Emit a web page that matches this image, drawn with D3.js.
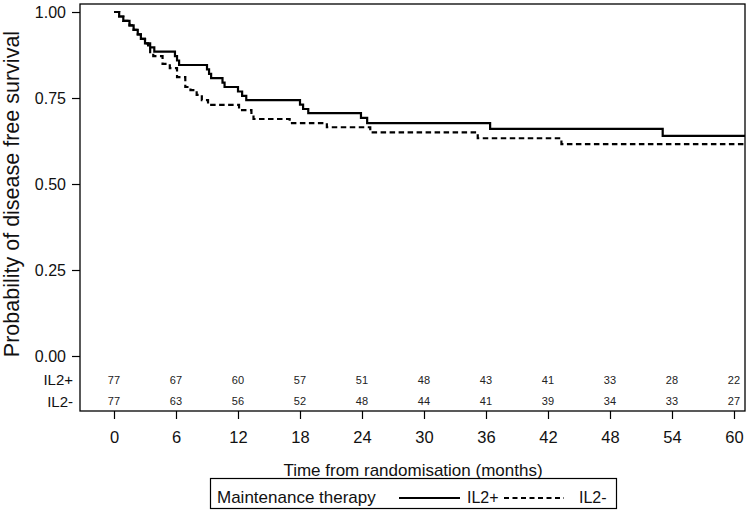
<!DOCTYPE html>
<html>
<head>
<meta charset="utf-8">
<script src="https://cdn.jsdelivr.net/npm/d3@7"></script>
<style>
  html, body { margin: 0; padding: 0; background: #fff; }
  svg { display: block; font-family: "Liberation Sans", Arial, sans-serif; }
</style>
</head>
<body>
<svg id="chart" width="750" height="514"></svg>
<script>
// ---------- data ----------
// Kaplan-Meier step points: time (months) and survival after the step
const il2PlusTimes = [0, 0.5, 0.9, 1.5, 1.9, 2.3, 2.6, 3.0, 3.5, 3.9, 5.9, 6.1, 6.3, 9.0, 9.2, 9.4, 10.5, 10.7, 12.0, 12.4, 12.8, 18.0, 18.3, 18.8, 23.9, 24.5, 36.4, 53.1, 61.1];
const il2PlusSurv  = [1.0, 0.987, 0.974, 0.961, 0.948, 0.935, 0.922, 0.909, 0.897, 0.885, 0.872, 0.859, 0.846, 0.833, 0.820, 0.808, 0.795, 0.782, 0.769, 0.756, 0.744, 0.731, 0.718, 0.706, 0.692, 0.677, 0.660, 0.640, 0.640];

const il2MinusTimes = [0, 0.5, 0.9, 1.5, 1.9, 2.3, 2.6, 3.0, 3.3, 3.5, 3.8, 4.7, 5.4, 6.1, 6.9, 7.4, 8.0, 8.5, 9.1, 12.1, 13.3, 13.5, 17.0, 20.6, 24.8, 35.2, 43.3, 61.1];
const il2MinusSurv  = [1.0, 0.987, 0.974, 0.961, 0.948, 0.935, 0.922, 0.909, 0.896, 0.883, 0.872, 0.849, 0.837, 0.811, 0.782, 0.773, 0.759, 0.744, 0.730, 0.715, 0.702, 0.689, 0.677, 0.665, 0.650, 0.633, 0.616, 0.616];

const xTicks = [0, 6, 12, 18, 24, 30, 36, 42, 48, 54, 60];
const yTicks = [0, 0.25, 0.5, 0.75, 1.0];
const atRiskPlus  = [77, 67, 60, 57, 51, 48, 43, 41, 33, 28, 22];
const atRiskMinus = [77, 63, 56, 52, 48, 44, 41, 39, 34, 33, 27];
const groupLabels = ["IL2+", "IL2-"];

// ---------- layout ----------
const svg = d3.select("#chart");
const plot = { left: 80, right: 745, top: 4, bottom: 411 };

const x = d3.scaleLinear().domain([-3.290, 61.065]).range([plot.left, plot.right]);
const y = d3.scaleLinear().domain([-0.1599, 1.0233]).range([plot.bottom, plot.top]);

svg.append("defs").append("clipPath").attr("id", "clip")
  .append("rect")
  .attr("x", plot.left).attr("y", plot.top)
  .attr("width", plot.right - plot.left).attr("height", plot.bottom - plot.top);

// frame
svg.append("rect")
  .attr("x", plot.left).attr("y", plot.top)
  .attr("width", plot.right - plot.left).attr("height", plot.bottom - plot.top)
  .attr("fill", "none").attr("stroke", "#000").attr("stroke-width", 1.3);

// y axis
const yAxis = d3.axisLeft(y).tickValues(yTicks).tickFormat(d3.format(".2f")).tickSize(8).tickPadding(6);
const gy = svg.append("g").attr("transform", `translate(${plot.left},0)`).call(yAxis);
gy.select(".domain").remove();
gy.selectAll("line").attr("stroke", "#000").attr("stroke-width", 1.2);
gy.selectAll("text").attr("font-size", 16).attr("fill", "#111");

// x axis
const xAxis = d3.axisBottom(x).tickValues(xTicks).tickFormat(d3.format("d")).tickSize(8).tickPadding(12);
const gx = svg.append("g").attr("transform", `translate(0,${plot.bottom})`).call(xAxis);
gx.select(".domain").remove();
gx.selectAll("line").attr("stroke", "#000").attr("stroke-width", 1.2);
gx.selectAll("text").attr("font-size", 16.5).attr("fill", "#111");

// axis titles
svg.append("text")
  .attr("transform", `translate(19,194) rotate(-90)`)
  .attr("text-anchor", "middle")
  .attr("font-size", 21.5).attr("fill", "#111")
  .text("Probability of disease free survival");

svg.append("text")
  .attr("x", 413).attr("y", 475.5)
  .attr("text-anchor", "middle")
  .attr("font-size", 17).attr("fill", "#111")
  .text("Time from randomisation (months)");

// curves
const line = d3.line()
  .x(d => x(d.t)).y(d => y(d.s))
  .curve(d3.curveStepAfter);

const plusData = il2PlusTimes.map((t, i) => ({ t, s: il2PlusSurv[i] }));
const minusData = il2MinusTimes.map((t, i) => ({ t, s: il2MinusSurv[i] }));

const curves = svg.append("g").attr("clip-path", "url(#clip)");
curves.append("path").datum(minusData)
  .attr("d", line).attr("fill", "none")
  .attr("stroke", "#000").attr("stroke-width", 2.2)
  .attr("stroke-dasharray", "5.5,3.5");
curves.append("path").datum(plusData)
  .attr("d", line).attr("fill", "none")
  .attr("stroke", "#000").attr("stroke-width", 2.2);

// at-risk table
const rowY = [383.5, 405];
[atRiskPlus, atRiskMinus].forEach((row, r) => {
  svg.append("text")
    .attr("x", 73).attr("y", rowY[r] + 1.5)
    .attr("text-anchor", "end")
    .attr("font-size", 15).attr("fill", "#111")
    .text(groupLabels[r]);
  svg.append("g").selectAll("text").data(row).join("text")
    .attr("x", (d, i) => x(xTicks[i]))
    .attr("y", rowY[r])
    .attr("text-anchor", "middle")
    .attr("font-size", 11).attr("fill", "#222")
    .text(d => d);
});

// legend
const lg = svg.append("g");
lg.append("rect")
  .attr("x", 210.5).attr("y", 478.5).attr("width", 406).attr("height", 30)
  .attr("fill", "none").attr("stroke", "#000").attr("stroke-width", 1.2);
lg.append("text")
  .attr("x", 217).attr("y", 503).attr("font-size", 17).attr("fill", "#111")
  .text("Maintenance therapy");
lg.append("line")
  .attr("x1", 399).attr("x2", 460).attr("y1", 498).attr("y2", 498)
  .attr("stroke", "#000").attr("stroke-width", 2.2);
lg.append("text")
  .attr("x", 467).attr("y", 503).attr("font-size", 16).attr("fill", "#111")
  .text(groupLabels[0]);
lg.append("line")
  .attr("x1", 504).attr("x2", 564).attr("y1", 498).attr("y2", 498)
  .attr("stroke", "#000").attr("stroke-width", 2.2)
  .attr("stroke-dasharray", "5,3.5");
lg.append("text")
  .attr("x", 579).attr("y", 503).attr("font-size", 16).attr("fill", "#111")
  .text(groupLabels[1]);
</script>
</body>
</html>
